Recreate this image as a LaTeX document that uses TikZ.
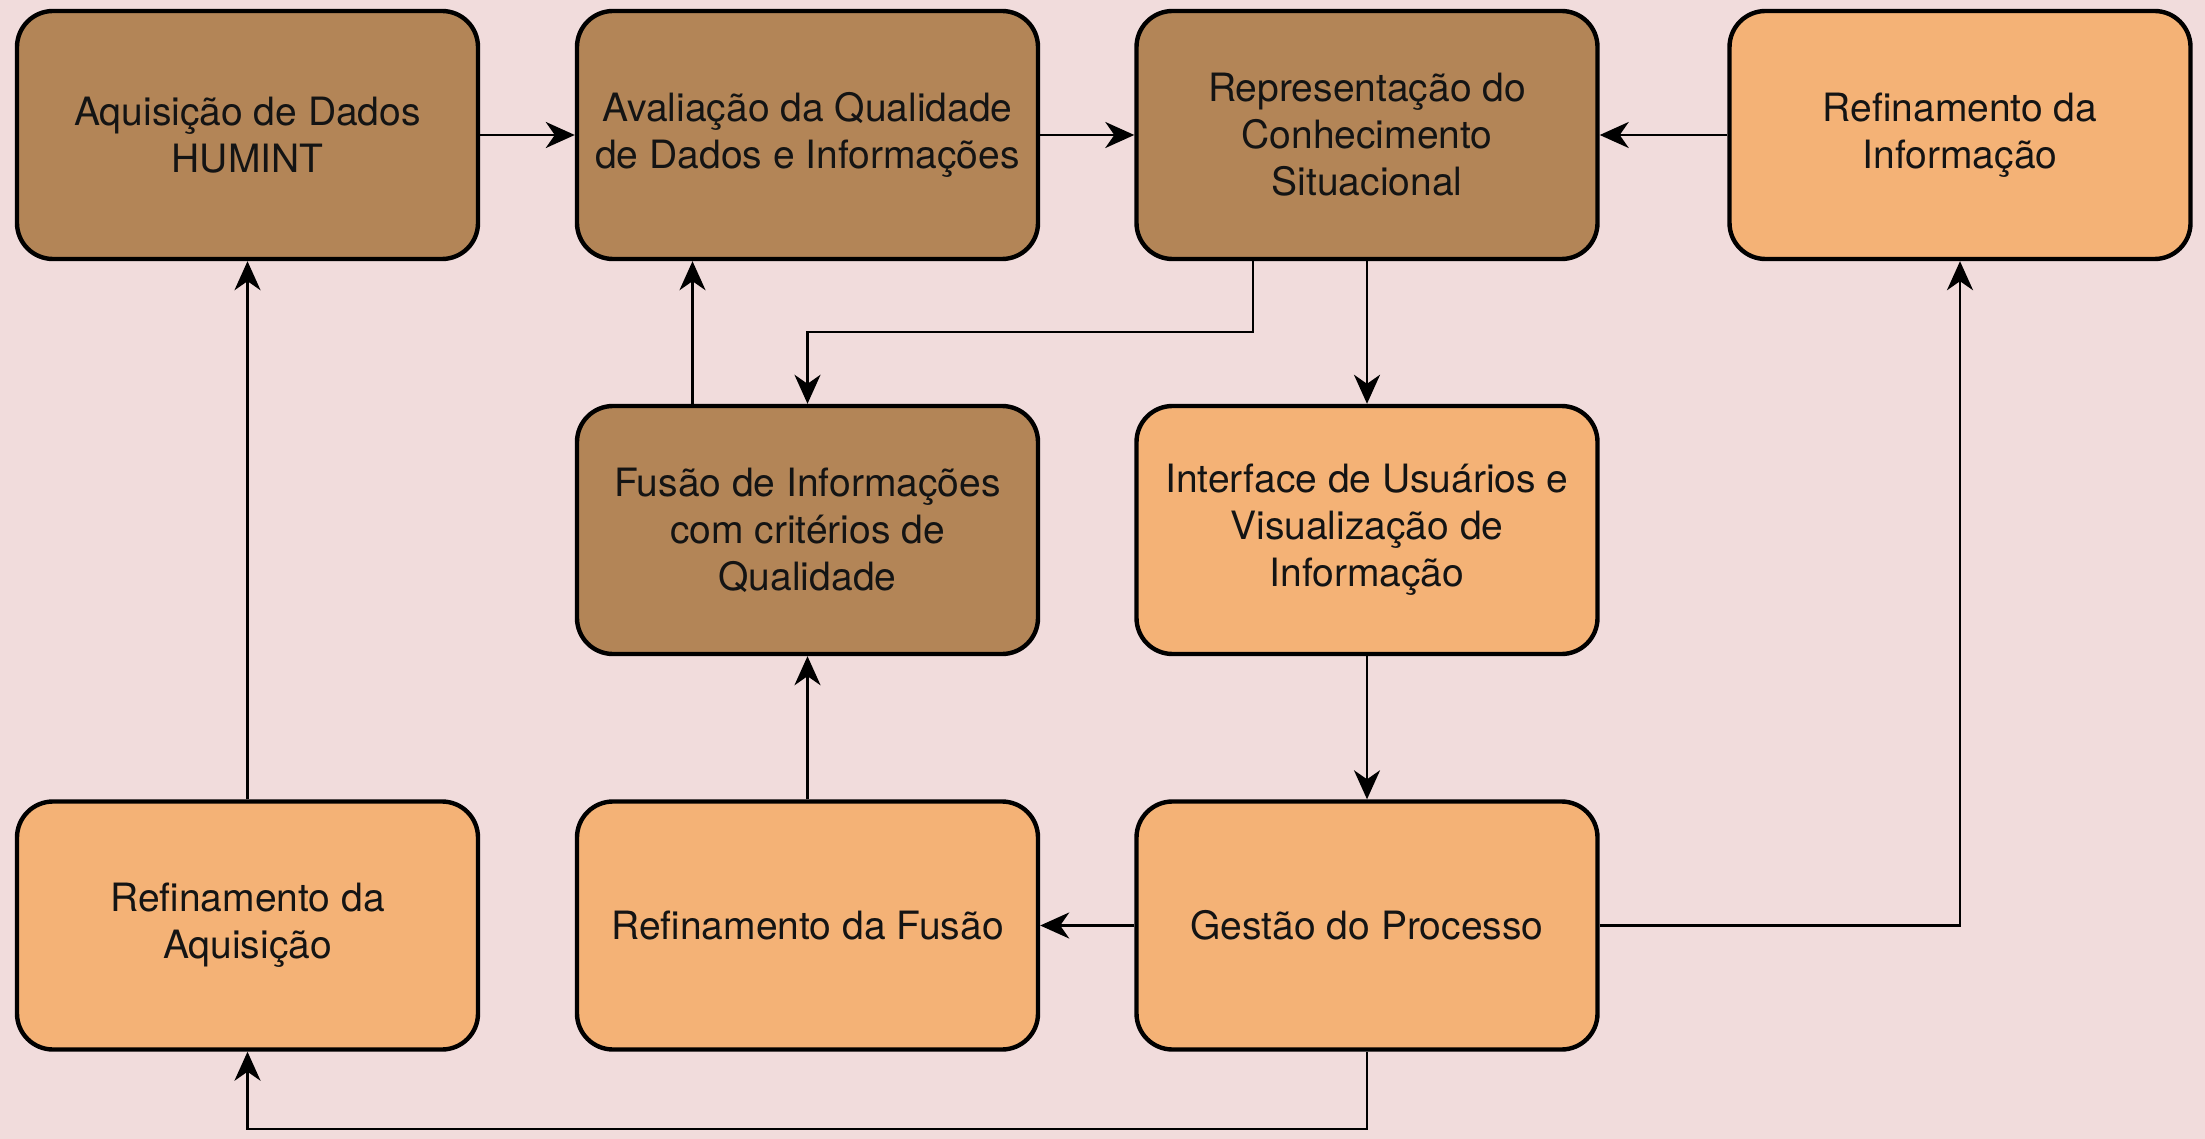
\documentclass[tikz,border=0pt]{standalone}
\usepackage{fontspec}
\setmainfont{TeX Gyre Heros}
\usetikzlibrary{arrows.meta}
\definecolor{bgc}{HTML}{F1DCDC}
\definecolor{brownc}{HTML}{B38557}
\definecolor{orangec}{HTML}{F4B276}
\definecolor{txtc}{HTML}{141414}
\tikzset{
  box/.style={draw=black, line width=4.4pt, rounded corners=36pt, minimum width=461pt, minimum height=248pt,
    align=center, inner sep=0pt, text=txtc, font=\fontsize{39}{47}\selectfont},
  bbox/.style={box, fill=brownc},
  obox/.style={box, fill=orangec},
  conn/.style={draw=black, line width=2.8pt, -{Stealth[length=29pt,width=26pt,inset=9pt]}},
}
\begin{document}
\begin{tikzpicture}[x=1pt,y=-1pt]
\fill[bgc] (0,0) rectangle (2205,1139);
\useasboundingbox (0,0) rectangle (2205,1139);

\node[bbox] (a1) at (247.5,135) {Aquisição de Dados\\HUMINT};
\node[bbox] (b1) at (807.5,135) {Avaliação da Qualidade\\de Dados e Informações};
\node[bbox] (c1) at (1367,135) {Representação do\\Conhecimento\\Situacional};
\node[obox] (d1) at (1960,135) {Refinamento da\\Informação};
\node[bbox] (b2) at (807.5,530) {Fusão de Informações\\com critérios de\\Qualidade};
\node[obox] (c2) at (1367,530) {Interface de Usuários e\\Visualização de\\Informação};
\node[obox] (a3) at (247.5,925.5) {Refinamento da\\Aquisição};
\node[obox] (b3) at (807.5,925.5) {Refinamento da Fusão};
\node[obox] (c3) at (1367,925.5) {Gestão do Processo};

\coordinate (k1) at (1000,332);
\coordinate (k2) at (800,1129);

\draw[conn] (a1.east) -- (b1.west);
\draw[conn] (b1.east) -- (c1.west);
\draw[conn] (d1.west) -- (c1.east);
\draw[conn] ([xshift=-114pt]c1.south) |- (k1) -| (b2.north);
\draw[conn] (c1.south) -- (c2.north);
\draw[conn] ([xshift=-115pt]b2.north) -- ([xshift=-115pt]b1.south);
\draw[conn] (c2.south) -- (c3.north);
\draw[conn] (c3.west) -- (b3.east);
\draw[conn] (b3.north) -- (b2.south);
\draw[conn] (a3.north) -- (a1.south);
\draw[conn] (c3.east) -| (d1.south);
\draw[conn] (c3.south) |- (k2) -| (a3.south);
\end{tikzpicture}
\end{document}
